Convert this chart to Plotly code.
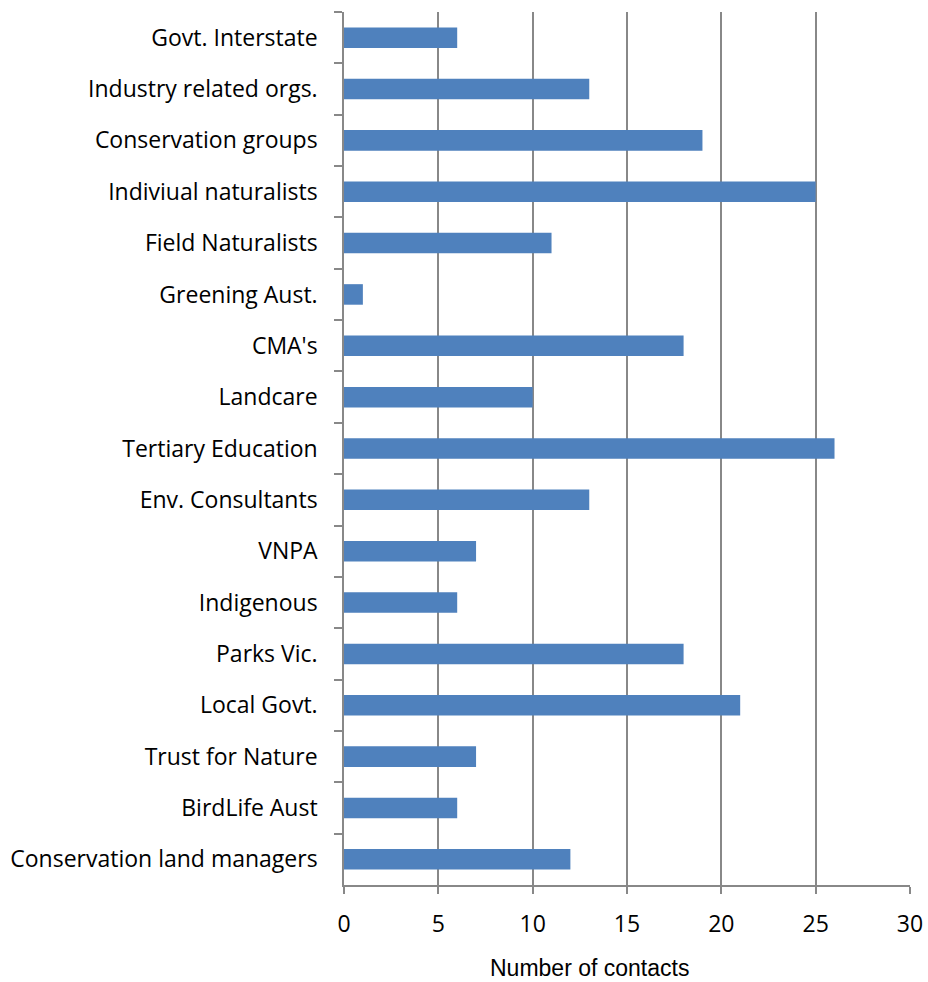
import plotly.graph_objects as go

categories = ["Govt. Interstate", "Industry related orgs.", "Conservation groups",
              "Indiviual naturalists", "Field Naturalists", "Greening Aust.", "CMA's",
              "Landcare", "Tertiary Education", "Env. Consultants", "VNPA", "Indigenous",
              "Parks Vic.", "Local Govt.", "Trust for Nature", "BirdLife Aust",
              "Conservation land managers"]
values = [6, 13, 19, 25, 11, 1, 18, 10, 26, 13, 7, 6, 18, 21, 7, 6, 12]
x_ticks = [0, 5, 10, 15, 20, 25, 30]

fig = go.Figure(go.Bar(
    y=categories, x=values, orientation="h",
    marker=dict(color="#4F81BD", line=dict(width=0)),
))

fig.update_layout(
    width=928, height=982,
    margin=dict(l=344, r=18, t=12, b=97, autoexpand=False),
    paper_bgcolor="white", plot_bgcolor="white",
    bargap=0.6, showlegend=False,
    font=dict(family="Open Sans, Noto Sans, sans-serif", size=23, color="black"),
    annotations=[dict(text="Number of contacts", xref="paper", yref="paper",
                      x=0.4346, y=0, yshift=-83, xanchor="center", yanchor="middle",
                      showarrow=False,
                      font=dict(size=23, family="Liberation Sans, Arial, sans-serif",
                                color="black"))],
)
fig.update_xaxes(
    range=[0, 30.001], tickvals=x_ticks, ticktext=[str(v) for v in x_ticks],
    showgrid=True, gridcolor="#888888", gridwidth=1.5,
    showline=True, linecolor="#888888", linewidth=1.5,
    ticks="outside", ticklen=7, tickcolor="#888888", tickwidth=1.5,
    ticklabelstandoff=11, ticklabeloverflow="allow", automargin=False,
    tickfont=dict(size=23, family="Open Sans, Noto Sans, sans-serif"),
    zeroline=False, mirror=False,
)
fig.update_yaxes(
    categoryorder="array", categoryarray=categories, autorange="reversed",
    showline=True, linecolor="#888888", linewidth=1.5,
    ticks="outside", ticklen=8, tickcolor="#888888", tickwidth=1.5,
    tickson="boundaries", showgrid=False, automargin=False,
    ticklabelstandoff=20,
    tickfont=dict(size=23, family="Open Sans, Noto Sans, sans-serif"),
)

fig.write_html("out.html", config={"displayModeBar": False},
               post_script="document.body.style.margin='0';document.body.style.overflow='hidden';")
